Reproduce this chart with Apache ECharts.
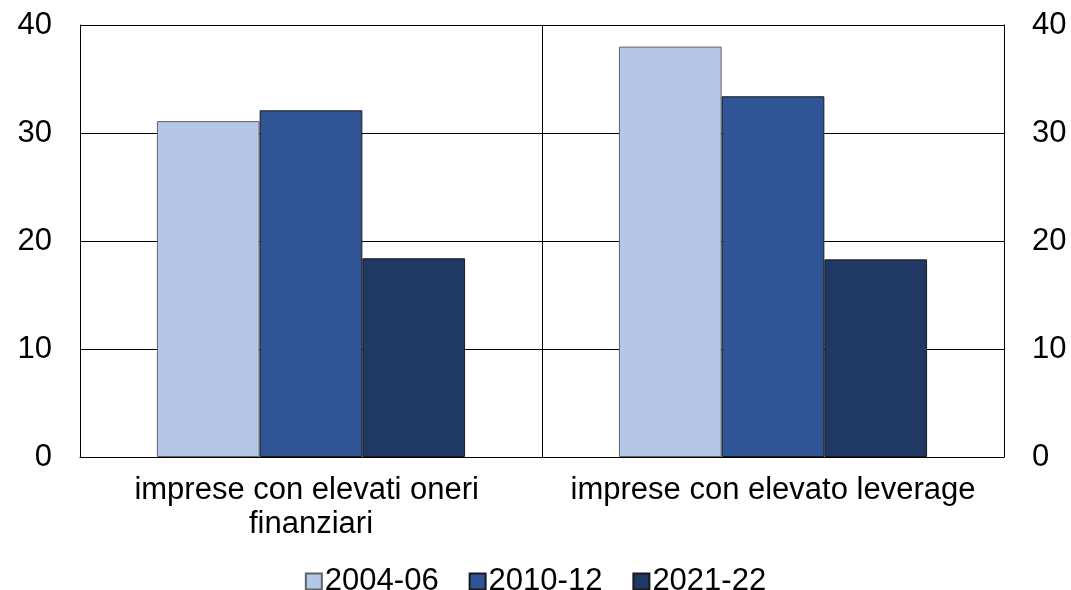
<!DOCTYPE html>
<html>
<head>
<meta charset="utf-8">
<script src="https://cdn.jsdelivr.net/npm/echarts@6/dist/echarts.min.js"></script>
<style>
  html, body { margin: 0; padding: 0; background: #fff; }
  #chart { width: 1071px; height: 590px; }
</style>
</head>
<body>
<div id="chart"></div>
<script>
// dati
const categories = ['imprese con elevati oneri finanziari', 'imprese con elevato leverage'];
const periods = ['2004-06', '2010-12', '2021-22'];
const s2004 = [31.1, 38.0];
const s2010 = [32.1, 33.4];
const s2021 = [18.4, 18.3];
const yTicks = [0, 10, 20, 30, 40];

const colors = ['#B4C7E7', '#2F5597', '#203864'];
const borders = ['#5f6368', '#1a1a1a', '#1a1a1a'];
const font = 'Liberation Sans, Arial, sans-serif';
const fs = 31;

const chart = echarts.init(document.getElementById('chart'));

const yAxisBase = {
  type: 'value',
  min: yTicks[0],
  max: yTicks[yTicks.length - 1],
  interval: 10,
  axisLine: { show: true, lineStyle: { color: '#000', width: 1 } },
  axisTick: { show: false },
  axisLabel: { color: '#000', fontSize: fs, fontFamily: font, margin: 28 }
};

chart.setOption({
  animation: false,
  grid: { left: 80, right: 67, top: 25, bottom: 133 },
  legend: {
    top: 561,
    left: 'center',
    icon: 'rect',
    itemWidth: 16,
    itemHeight: 16,
    itemGap: 30,
    textStyle: { color: '#000', fontSize: fs, fontFamily: font, padding: [0, 0, 0, -2] },
    data: periods
  },
  xAxis: {
    type: 'category',
    data: categories,
    axisLine: { show: true, lineStyle: { color: '#000', width: 1 } },
    axisTick: { show: false },
    splitLine: { show: true, interval: 0, lineStyle: { color: '#000', width: 1 } },
    axisLabel: {
      interval: 0,
      color: '#000',
      fontSize: fs,
      fontFamily: font,
      lineHeight: 34,
      margin: 16,
      width: 445,
      overflow: 'break'
    }
  },
  yAxis: [
    Object.assign({}, yAxisBase, {
      position: 'left',
      splitLine: { show: true, lineStyle: { color: '#000', width: 1 } }
    }),
    Object.assign({}, yAxisBase, {
      position: 'right',
      splitLine: { show: false }
    })
  ],
  series: [s2004, s2010, s2021].map((vals, i) => ({
    name: periods[i],
    type: 'bar',
    data: vals,
    barGap: '0%',
    barCategoryGap: '33.3%',
    itemStyle: { color: colors[i], borderColor: borders[i], borderWidth: 1 }
  }))
});
</script>
</body>
</html>
